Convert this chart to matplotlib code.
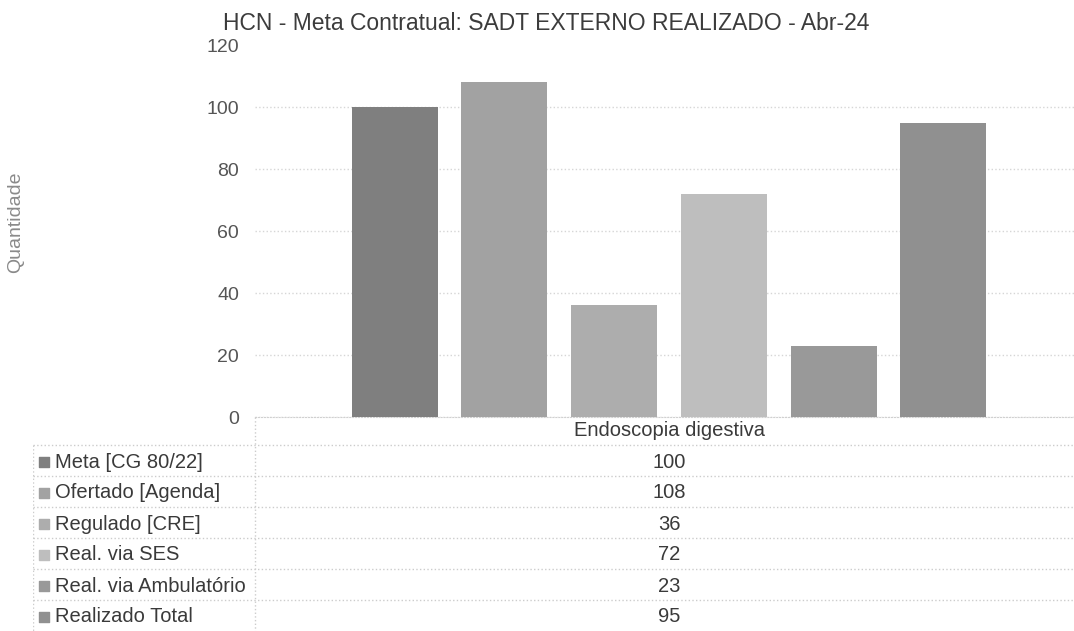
import matplotlib.pyplot as plt

# ------------------------------------------------------------
# data
# ------------------------------------------------------------

title = "HCN - Meta Contratual: SADT EXTERNO REALIZADO - Abr-24"
category = "Endoscopia digestiva"

series = [
    "Meta [CG 80/22]",
    "Ofertado [Agenda]",
    "Regulado [CRE]",
    "Real. via SES",
    "Real. via Ambulatório",
    "Realizado Total",
]
values = [100, 108, 36, 72, 23, 95]
y_ticks = [0, 20, 40, 60, 80, 100, 120]

colors = ["#7f7f7f", "#a2a2a2", "#adadad", "#bebebe", "#999999", "#909090"]

plt.rcParams["font.family"] = ["Liberation Sans", "DejaVu Sans"]

W, H = 1074, 631
fig = plt.figure(figsize=(W / 100, H / 100), dpi=100)


def box(left, top, right, bottom):
    # pixel box -> figure fraction
    return [left / W, 1 - bottom / H, (right - left) / W, (bottom - top) / H]


# ------------------------------------------------------------
# bar chart
# ------------------------------------------------------------

ax = fig.add_axes(box(255, 45, 1083, 417))

pitch = 0.1325
width = 0.104
n = len(values)
offsets = [(i - (n - 1) / 2) * pitch for i in range(n)]

ax.bar(offsets, values, width=width, color=colors, zorder=3)

ax.set_xlim(-0.5, 0.5)
ax.set_ylim(0, 120)
ax.set_yticks(y_ticks)
ax.set_xticks([])
ax.grid(axis="y", color="#d6d6d6", linestyle=":", linewidth=1, zorder=0)
# the scan shows no gridline at the top value
ax.yaxis.get_gridlines()[-1].set_visible(False)

for side in ["top", "right", "left"]:
    ax.spines[side].set_visible(False)
ax.spines["bottom"].set_color("#d0d0d0")
ax.spines["bottom"].set_linestyle(":")

ax.tick_params(axis="y", length=0, pad=11.5, labelsize=14, labelcolor="#555555")

fig.text(546 / W, 1 - 30 / H, title, ha="center", va="baseline",
         fontsize=16.5, color="#3c3c3c")
fig.text(16 / W, 1 - 222 / H, "Quantidade", rotation=90, ha="center",
         va="center", fontsize=14, color="#8a8a8a")

# ------------------------------------------------------------
# data table under the chart
# ------------------------------------------------------------

tax = fig.add_axes(box(33, 417, 1083, 631))
tax.set_xlim(0, 1050)
tax.set_ylim(214, 0)
tax.axis("off")

head_h = 28
row_h = 31
label_col = 222
value_x = (label_col + 1050) / 2
line_kw = dict(color="#cccccc", linestyle=":", linewidth=1)

tax.text(value_x, head_h / 2, category, ha="center", va="center",
         fontsize=14.5, color="#3a3a3a")

tax.plot([label_col, label_col], [0, 214], **line_kw)
tax.plot([0, 0], [head_h, 214], **line_kw)

for i, (name, val, col) in enumerate(zip(series, values, colors)):
    top = head_h + i * row_h
    mid = top + row_h / 2 + 1.5
    tax.plot([0, 1050], [top, top], **line_kw)
    tax.scatter([11], [mid], marker="s", s=42, color=col, zorder=3)
    tax.text(22, mid, name, ha="left", va="center", fontsize=14.5,
             color="#3a3a3a")
    tax.text(value_x, mid, str(val), ha="center", va="center",
             fontsize=14.5, color="#3a3a3a")

fig.savefig("out.png", dpi=100)
